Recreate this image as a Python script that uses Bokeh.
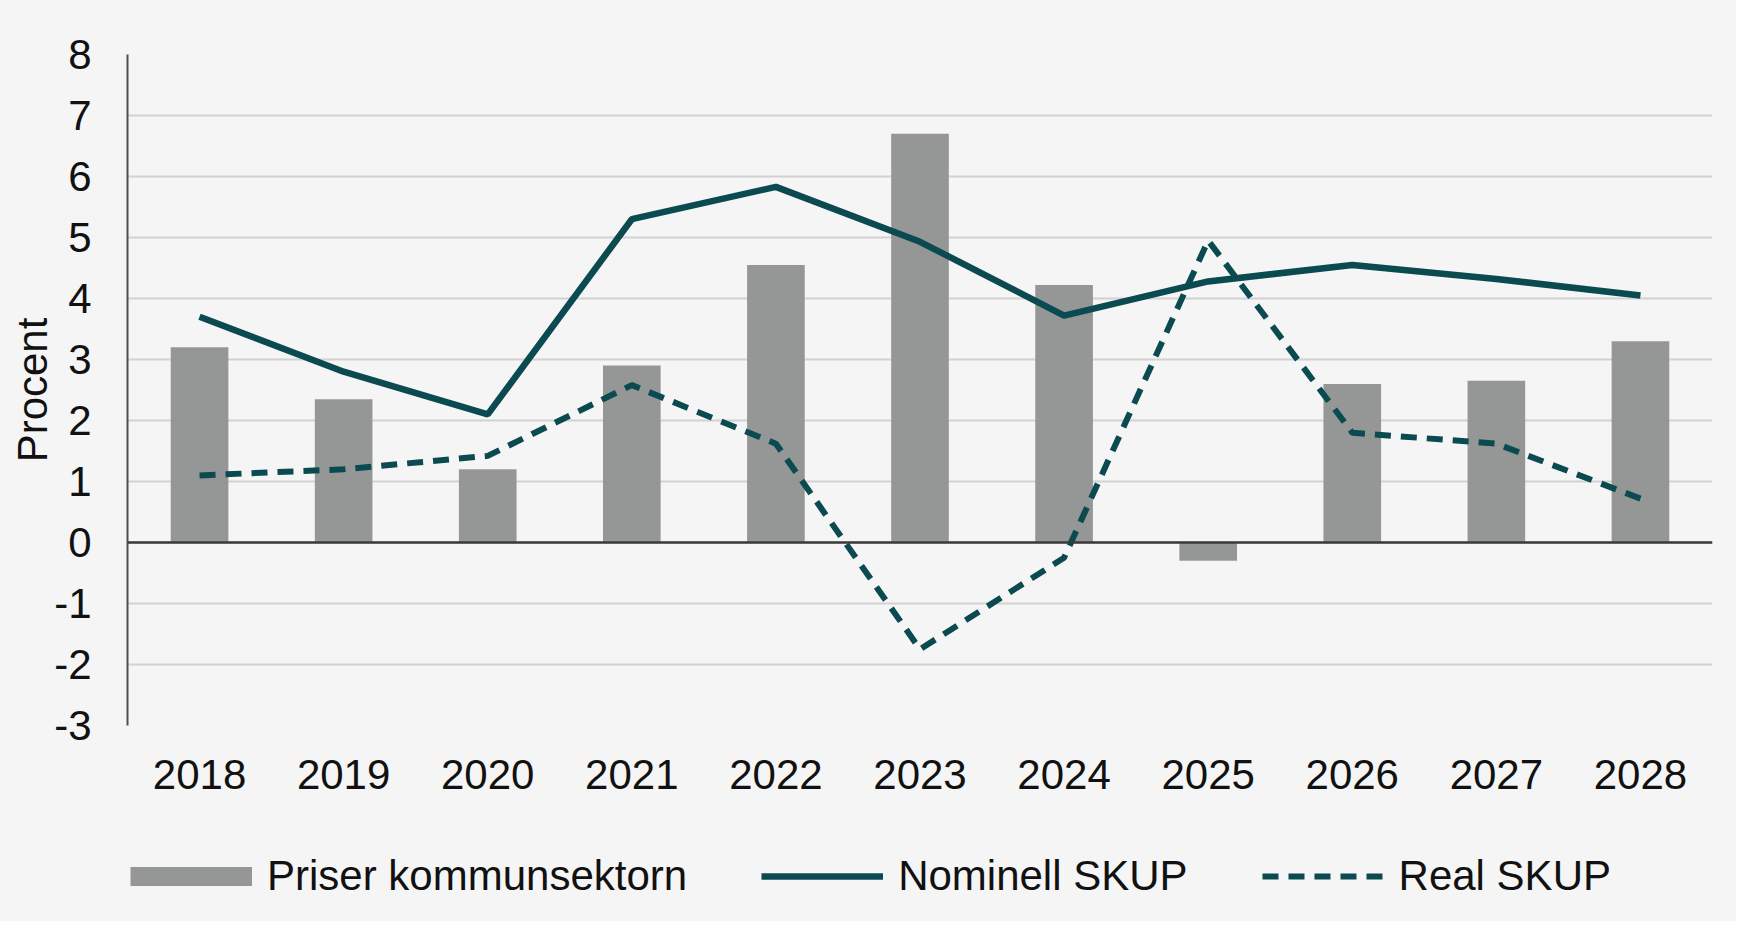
from bokeh.plotting import figure
from bokeh.layouts import column
from bokeh.models import (FactorRange, Range1d, FixedTicker, Span, Legend,
                          LegendItem, ColumnDataSource)
from bokeh.embed import file_html
from bokeh.resources import INLINE

years = ["2018", "2019", "2020", "2021", "2022", "2023", "2024", "2025", "2026", "2027", "2028"]
priser = [3.2, 2.35, 1.2, 2.9, 4.55, 6.7, 4.22, -0.3, 2.6, 2.65, 3.3]
nominell = [3.7, 2.8, 2.1, 5.3, 5.83, 4.93, 3.72, 4.28, 4.55, 4.32, 4.05]
real = [1.1, 1.2, 1.42, 2.58, 1.62, -1.75, -0.25, 4.95, 1.8, 1.62, 0.72]
y_ticks = list(range(-3, 9))
series_names = ["Priser kommunsektorn", "Nominell SKUP", "Real SKUP"]

FONT = "Liberation Sans"
BG = "#f5f5f5"
TEAL = "#0b4a50"
GRAY = "#959797"
TXT = "#111111"

src = ColumnDataSource(dict(year=years, priser=priser, nominell=nominell, real=real))

# ---- main chart ----
p = figure(width=1736, height=815, x_range=FactorRange(factors=years),
           y_range=Range1d(-3, 8), output_backend="svg", toolbar_location=None,
           min_border_left=127, min_border_right=24, min_border_top=54,
           min_border_bottom=90)
p.background_fill_color = BG
p.border_fill_color = BG
p.outline_line_color = None

bars = p.vbar(x="year", top="priser", width=0.4, source=src,
              fill_color=GRAY, line_color=None)
zero = Span(location=0, dimension="width", line_color="#3a3a3a", line_width=2.5)
p.add_layout(zero)
nom = p.line(x="year", y="nominell", source=src, line_color=TEAL, line_width=6.5)
rl = p.line(x="year", y="real", source=src, line_color=TEAL, line_width=6,
            line_dash="16 10")

p.xgrid.grid_line_color = None
p.ygrid.grid_line_color = "#d2d2d2"
p.ygrid.grid_line_width = 2
p.yaxis.ticker = FixedTicker(ticks=y_ticks)
p.yaxis.major_label_overrides = {t: str(t) for t in y_ticks}

for ax in p.axis:
    ax.major_tick_line_color = None
    ax.minor_tick_line_color = None
    ax.major_tick_out = 0
    ax.major_tick_in = 0
    ax.major_label_text_font = FONT
    ax.major_label_text_font_size = "42px"
    ax.major_label_text_color = TXT
    ax.axis_label_text_font = FONT

p.xaxis.axis_line_color = None
p.xaxis.major_label_standoff = 34
p.yaxis.axis_line_color = "#505050"
p.yaxis.axis_line_width = 2
p.yaxis.major_label_standoff = 36
p.yaxis.axis_label = "Procent"
p.yaxis.axis_label_text_font_size = "42px"
p.yaxis.axis_label_text_font_style = "normal"
p.yaxis.axis_label_text_color = TXT
p.yaxis.axis_label_standoff = -5

# ---- legend strip below the chart ----
leg = figure(width=1736, height=106, x_range=Range1d(0, 1), y_range=Range1d(0, 1),
             output_backend="svg", toolbar_location=None,
             x_axis_type=None, y_axis_type=None,
             min_border_left=0, min_border_right=0, min_border_top=0,
             min_border_bottom=0)
leg.background_fill_color = BG
leg.border_fill_color = BG
leg.outline_line_color = None
leg.grid.grid_line_color = None

k_bar = leg.line(x=[0, 1], y=[0, 0], line_color=GRAY, line_width=19,
                 line_cap="butt", visible=False)
k_nom = leg.line(x=[0, 1], y=[0, 0], line_color=TEAL, line_width=6.5, visible=False)
k_real = leg.line(x=[0, 1], y=[0, 0], line_color=TEAL, line_width=6,
                  line_dash="16 10", visible=False)

legend = Legend(items=[LegendItem(label=series_names[0], renderers=[k_bar]),
                       LegendItem(label=series_names[1], renderers=[k_nom]),
                       LegendItem(label=series_names[2], renderers=[k_real])],
                orientation="horizontal", location=(3, 21),
                glyph_width=122, glyph_height=22, label_standoff=15, spacing=74,
                padding=0, margin=0, border_line_color=None,
                background_fill_alpha=0,
                label_text_font=FONT, label_text_font_size="42px",
                label_text_color=TXT)
leg.add_layout(legend)

layout = column(p, leg, spacing=0)
layout.styles = {"background-color": BG}
open("out.html", "w").write(file_html(layout, INLINE))
